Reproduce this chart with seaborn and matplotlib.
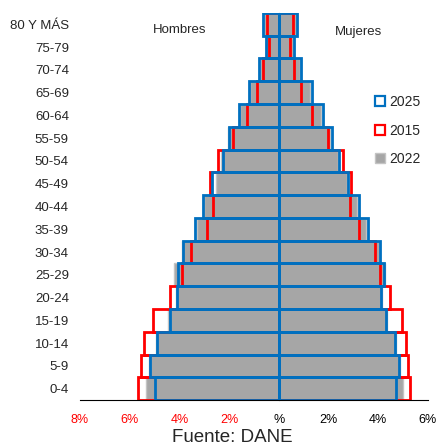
import numpy as np
import pandas as pd
import matplotlib
matplotlib.use("Agg")
import matplotlib.pyplot as plt
import seaborn as sns
from matplotlib.lines import Line2D

# Age groups, top to bottom
ages = ['80 Y MÁS', '75-79', '70-74', '65-69', '60-64', '55-59', '50-54', '45-49',
        '40-44', '35-39', '30-34', '25-29', '20-24', '15-19', '10-14', '5-9', '0-4']

# Percent of population
hombres_2025 = [0.62, 0.52, 0.80, 1.21, 1.61, 2.00, 2.25, 2.68, 3.07, 3.36, 3.86, 4.06, 4.09, 4.39, 4.92, 5.20, 4.99]
hombres_2015 = [0.49, 0.40, 0.63, 0.89, 1.30, 1.84, 2.43, 2.75, 2.63, 2.90, 3.53, 3.89, 4.39, 5.07, 5.43, 5.55, 5.66]
hombres_2022 = [0.60, 0.50, 0.76, 1.17, 1.58, 2.04, 2.32, 2.51, 3.00, 3.31, 3.89, 4.20, 4.14, 4.45, 4.96, 5.23, 5.34]

mujeres_2025 = [0.74, 0.60, 0.91, 1.33, 1.76, 2.13, 2.43, 2.78, 3.22, 3.58, 4.09, 4.23, 4.12, 4.31, 4.68, 4.84, 4.71]
mujeres_2015 = [0.56, 0.44, 0.62, 0.90, 1.34, 1.96, 2.59, 2.91, 2.86, 3.21, 3.85, 4.06, 4.49, 4.97, 5.13, 5.18, 5.29]
mujeres_2022 = [0.70, 0.57, 0.87, 1.27, 1.71, 2.07, 2.40, 2.74, 3.15, 3.50, 4.05, 4.28, 4.17, 4.36, 4.71, 4.88, 4.99]

xticks = [-8, -6, -4, -2, 0, 2, 4, 6]
xtick_labels = ['8%', '6%', '4%', '2%', '%', '2%', '4%', '6%']

GRAY = '#a6a6a6'
RED = '#ff0000'
BLUE = '#0070c0'

sns.set_style("white")
plt.rcParams['font.family'] = ['Liberation Sans', 'DejaVu Sans']

df = pd.DataFrame({
    'Edad': ages,
    'H2025': -np.array(hombres_2025), 'H2015': -np.array(hombres_2015), 'H2022': -np.array(hombres_2022),
    'M2025': mujeres_2025, 'M2015': mujeres_2015, 'M2022': mujeres_2022,
})

fig = plt.figure(figsize=(4.36, 4.46), dpi=100)
ax = fig.add_axes([0.1835, 0.103, 0.798, 0.868])

for side in ['H', 'M']:
    sns.barplot(data=df, x=side + '2022', y='Edad', order=ages, color=GRAY, saturation=1,
                edgecolor='#c4c4c4', linewidth=1, width=1, errorbar=None, ax=ax)
for side in ['H', 'M']:
    sns.barplot(data=df, x=side + '2015', y='Edad', order=ages, color=RED, saturation=1,
                fill=False, linewidth=2, width=1, errorbar=None, ax=ax)
for side in ['H', 'M']:
    sns.barplot(data=df, x=side + '2025', y='Edad', order=ages, color=BLUE, saturation=1,
                fill=False, linewidth=2, width=1, errorbar=None, ax=ax)

ax.set_xlim(-8, 6)
ax.set_ylim(16.5, -0.5)
ax.set_xlabel('')
ax.set_ylabel('')
ax.set_xticks(xticks)
ax.set_xticklabels(xtick_labels, fontsize=9)
for lab, v in zip(ax.get_xticklabels(), xticks):
    lab.set_color(RED if v < 0 else 'black')
ax.tick_params(axis='x', direction='out', length=4, width=0.8, color='black', pad=6)
ax.tick_params(axis='y', length=0, pad=8, labelsize=9.5)

for s in ['top', 'right', 'left']:
    ax.spines[s].set_visible(False)
ax.spines['bottom'].set_color('black')
ax.spines['bottom'].set_linewidth(0.8)

# center line with small ticks at each age group
sec = ax.secondary_yaxis(8 / 14)
sec.set_yticks(range(len(ages)))
sec.set_yticklabels([])
sec.tick_params(direction='in', length=3, width=0.8, color='black')
sec.spines['left'].set_color('black')
sec.spines['left'].set_linewidth(1)

ax.text(-4, 0.26, 'Hombres', ha='center', va='center', fontsize=9.5)
ax.text(3.2, 0.35, 'Mujeres', ha='center', va='center', fontsize=9.5)

handles = [
    Line2D([], [], marker='s', linestyle='none', markerfacecolor='white', markeredgecolor=BLUE,
           markeredgewidth=1.6, markersize=6.5, label='2025'),
    Line2D([], [], marker='s', linestyle='none', markerfacecolor='white', markeredgecolor=RED,
           markeredgewidth=1.6, markersize=6.5, label='2015'),
    Line2D([], [], marker='s', linestyle='none', markerfacecolor=GRAY, markeredgecolor='#c4c4c4',
           markeredgewidth=1, markersize=7, label='2022'),
]
ax.legend(handles=handles, loc='upper left', bbox_to_anchor=(0.826, 0.806), frameon=False,
          fontsize=10, labelspacing=1.05, handlelength=0.8, handletextpad=0.25, borderpad=0)

fig.text(232 / 436, 1 - 437 / 446, 'Fuente: DANE', ha='center', va='center', fontsize=13.5)

fig.savefig('out.png', dpi=100)
